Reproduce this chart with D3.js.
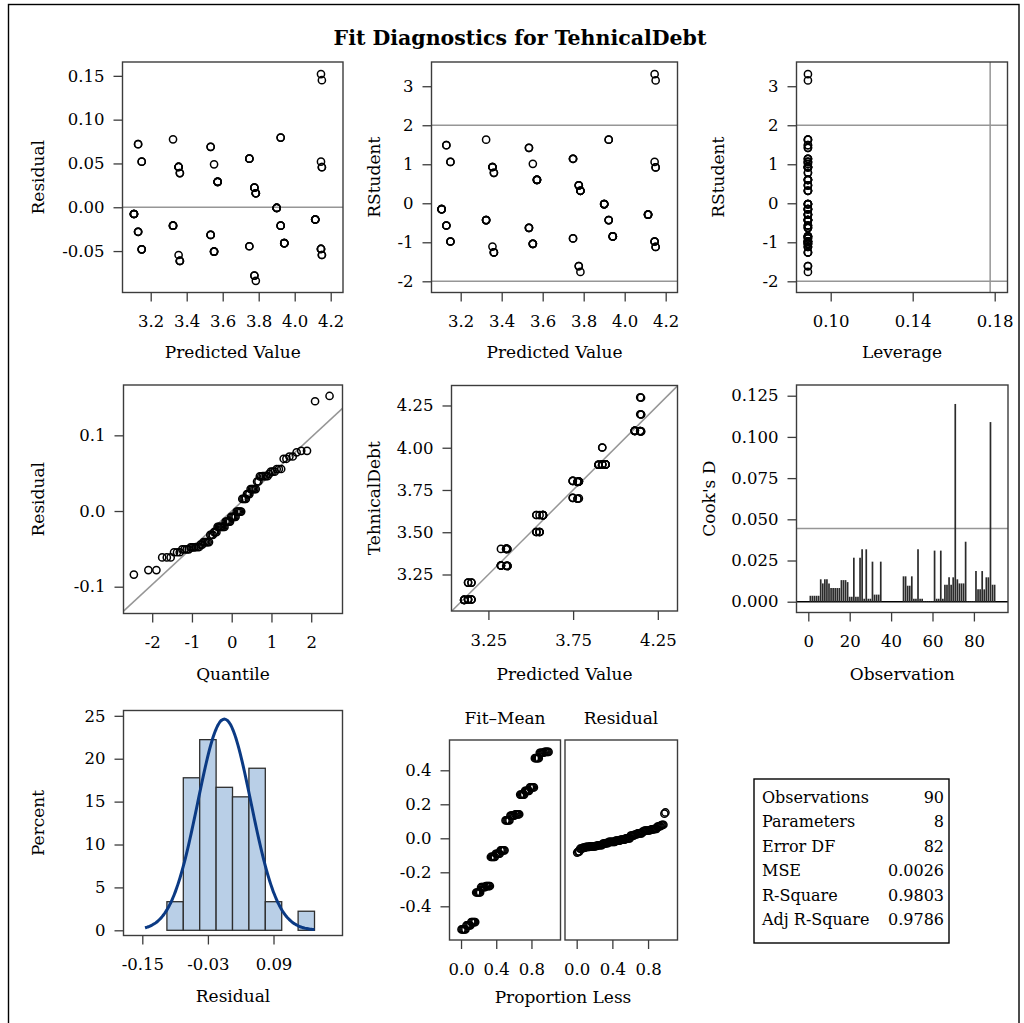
<!DOCTYPE html>
<html>
<head>
<meta charset="utf-8">
<script src="https://cdn.jsdelivr.net/npm/d3@7"></script>
<style>
  body { margin: 0; background: #fff; }
  svg text { font-family: "DejaVu Serif", serif; fill: #000; }
</style>
</head>
<body>
<svg id="chart" width="1024" height="1023"></svg>
<script>
// ---- Fitted model: one entry per distinct (predicted, residual) pair ----
const predicted = [4.146, 4.151, 3.922, 3.324, 3.130, 3.533, 3.748, 3.150, 4.146, 3.552, 3.355,
                   4.151, 3.362, 3.572, 3.776, 3.784, 3.900, 3.107, 4.114, 3.324, 3.922, 3.130,
                   3.533, 3.942, 3.748, 3.150, 4.146, 3.552, 3.355, 4.151, 3.362, 3.776, 3.784];
const residual  = [0.152, 0.145, 0.0795, 0.0775, 0.072, 0.069, 0.0555, 0.052, 0.052, 0.049, 0.046,
                   0.0457, 0.039, 0.029, 0.0224, 0.016, -0.0008, -0.0077, -0.014, -0.021, -0.021, -0.028,
                   -0.0316, -0.041, -0.0445, -0.048, -0.0476, -0.0506, -0.0545, -0.0545, -0.0613, -0.078, -0.084];
const rstudent  = [3.31, 3.15, 1.63, 1.63, 1.49, 1.42, 1.14, 1.06, 1.06, 1.01, 0.93,
                   0.92, 0.78, 0.60, 0.46, 0.32, -0.02, -0.15, -0.29, -0.43, -0.43, -0.57,
                   -0.63, -0.85, -0.90, -0.98, -0.98, -1.04, -1.11, -1.12, -1.26, -1.61, -1.76];
const leverage  = [0.0889, 0.0889, 0.0889, 0.0889, 0.0889, 0.0889, 0.0889, 0.0889, 0.0889, 0.0889, 0.0889,
                   0.0889, 0.0889, 0.0889, 0.0889, 0.0889, 0.0889, 0.0889, 0.0889, 0.0889, 0.0889, 0.0889,
                   0.0889, 0.0889, 0.0889, 0.0889, 0.0889, 0.0889, 0.0889, 0.0889, 0.0889, 0.0889, 0.0889];
const obsCount  = [1, 1, 2, 1, 2, 2, 3, 2, 1, 1, 4,
                   2, 2, 5, 3, 4, 5, 5, 5, 4, 3, 3,
                   3, 5, 2, 3, 3, 4, 1, 2, 3, 2, 1];

// Cook's D by observation number (1..90)
const cooksD = [0.0036, 0.0036, 0.0036, 0.0036, 0.0036, 0.0136, 0.0111, 0.0136, 0.0136, 0.0111,
                0.0083, 0.0083, 0.0083, 0.0083, 0.0083, 0.0131, 0.0131, 0.0131, 0.0119, 0.0030,
                0.0030, 0.0267, 0.0030, 0.0030, 0.0267, 0.0318, 0.0018, 0.0318, 0.0018, 0.0018,
                0.0243, 0.0043, 0.0043, 0.0043, 0.0243, 0.0000, 0.0000, 0.0000, 0.0000, 0.0000,
                0.0000, 0.0000, 0.0000, 0.0000, 0.0000, 0.0154, 0.0154, 0.0097, 0.0097, 0.0154,
                0.0018, 0.0018, 0.0318, 0.0018, 0.0018, 0.0004, 0.0004, 0.0004, 0.0004, 0.0004,
                0.0310, 0.0018, 0.0018, 0.0310, 0.0018, 0.0103, 0.0103, 0.0148, 0.0103, 0.0148,
                0.1200, 0.0136, 0.0111, 0.0111, 0.0111, 0.0364, 0.0004, 0.0004, 0.0004, 0.0004,
                0.0186, 0.0075, 0.0075, 0.0186, 0.0075, 0.0148, 0.0148, 0.1090, 0.0103, 0.0103];

// Fit statistics
const statLabels = ["Observations", "Parameters", "Error DF", "MSE", "R-Square", "Adj R-Square"];
const statValues = ["90", "8", "82", "0.0026", "0.9803", "0.9786"];
const nObs = 90, nParm = 8;

// Histogram bin edges and tick values
const histEdges = [-0.105, -0.075, -0.045, -0.015, 0.015, 0.045, 0.075, 0.105, 0.135, 0.165];
const ticksPred = [3.2, 3.4, 3.6, 3.8, 4.0, 4.2];
const ticksResid = [-0.05, 0.00, 0.05, 0.10, 0.15];
const ticksRStud = [-2, -1, 0, 1, 2, 3];
const ticksLev = [0.10, 0.14, 0.18];
const ticksQuant = [-2, -1, 0, 1, 2];
const ticksQQResid = [-0.1, 0.0, 0.1];
const ticksObsVal = [3.25, 3.50, 3.75, 4.00, 4.25];
const ticksObsPred = [3.25, 3.75, 4.25];
const ticksObsNum = [0, 20, 40, 60, 80];
const ticksCook = [0, 0.025, 0.05, 0.075, 0.1, 0.125];
const ticksHistX = [-0.15, -0.03, 0.09];
const ticksPct = [0, 5, 10, 15, 20, 25];
const ticksSpreadY = [-0.4, -0.2, 0.0, 0.2, 0.4];
const ticksProp = [0.0, 0.4, 0.8];

// ---- expand to one record per observation ----
const obs = [];
predicted.forEach((p, i) => {
  for (let k = 0; k < obsCount[i]; k++) {
    obs.push({ pred: p, res: residual[i], rst: rstudent[i], lev: leverage[i], actual: p + residual[i] });
  }
});

const svg = d3.select("#chart");
const FRAME = "#3c3c3c", REF = "#969696";
const TICK_FS = 16.5, TITLE_FS = 17;

// outer border
svg.append("rect").attr("x", 8.5).attr("y", 4.5).attr("width", 1010.5).attr("height", 1040)
  .attr("fill", "none").attr("stroke", "#000").attr("stroke-width", 1.4);

svg.append("text").attr("x", 520).attr("y", 45).attr("text-anchor", "middle")
  .attr("font-weight", "bold").attr("font-size", 20.5).text("Fit Diagnostics for TehnicalDebt");

let clipN = 0;
function styleAxis(sel) {
  sel.attr("font-family", null).attr("font-size", null);
  sel.select(".domain").remove();
  sel.selectAll(".tick line").attr("stroke", FRAME).attr("stroke-width", 1.3);
  sel.selectAll(".tick text").attr("font-size", TICK_FS).attr("fill", "#000");
}

function makePanel(o) {
  const [x0, y0, x1, y1] = o.box;
  const x = d3.scaleLinear().domain(o.xd).range([x0, x1]);
  const y = d3.scaleLinear().domain(o.yd).range([y1, y0]);
  const g = svg.append("g");
  const id = "clip" + (clipN++);
  svg.append("clipPath").attr("id", id).append("rect")
    .attr("x", x0).attr("y", y0).attr("width", x1 - x0).attr("height", y1 - y0);
  const ref = g.append("g").attr("clip-path", `url(#${id})`);
  const marks = g.append("g");
  g.append("rect").attr("x", x0).attr("y", y0).attr("width", x1 - x0).attr("height", y1 - y0)
    .attr("fill", "none").attr("stroke", FRAME).attr("stroke-width", 1.4);
  if (o.xt) {
    g.append("g").attr("transform", `translate(0,${y1})`)
      .call(d3.axisBottom(x).tickValues(o.xt).tickFormat(o.xf).tickSize(9).tickSizeOuter(0).tickPadding(14))
      .call(styleAxis);
  }
  if (o.yt) {
    g.append("g").attr("transform", `translate(${x0},0)`)
      .call(d3.axisLeft(y).tickValues(o.yt).tickFormat(o.yf).tickSize(9).tickSizeOuter(0).tickPadding(9))
      .call(styleAxis);
  }
  if (o.xTitle) {
    g.append("text").attr("x", o.xTitleX != null ? o.xTitleX : (x0 + x1) / 2).attr("y", o.xTitleY)
      .attr("text-anchor", "middle").attr("font-size", TITLE_FS).text(o.xTitle);
  }
  if (o.yTitle) {
    const cy = (y0 + y1) / 2;
    g.append("text").attr("transform", `translate(${o.yTitleX},${cy}) rotate(-90)`)
      .attr("text-anchor", "middle").attr("dy", "0.35em").attr("font-size", TITLE_FS).text(o.yTitle);
  }
  return { x, y, ref, marks, g };
}

function hline(p, v, color, w) {
  const [a, b] = p.x.domain();
  p.ref.append("line").attr("x1", p.x(a)).attr("x2", p.x(b)).attr("y1", p.y(v)).attr("y2", p.y(v))
    .attr("stroke", color || REF).attr("stroke-width", w || 1.5);
}
function vline(p, v) {
  const [a, b] = p.y.domain();
  p.ref.append("line").attr("y1", p.y(a)).attr("y2", p.y(b)).attr("x1", p.x(v)).attr("x2", p.x(v))
    .attr("stroke", REF).attr("stroke-width", 1.5);
}
function circles(p, data, fx, fy) {
  p.marks.selectAll("circle").data(data).join("circle")
    .attr("cx", d => p.x(fx(d))).attr("cy", d => p.y(fy(d))).attr("r", 3.6)
    .attr("fill", "none").attr("stroke", "#000").attr("stroke-width", 1.5);
}

// number formats with a plain hyphen for negatives
const hyph = f => v => f(v).replace("\u2212", "-");
const f2 = hyph(d3.format(".2f")), f1 = hyph(d3.format(".1f")), f0 = hyph(d3.format("d")), f3 = hyph(d3.format(".3f"));

// 1. Residual vs predicted
const p1 = makePanel({ box: [122.5, 62, 343, 292.5], xd: [3.0433, 4.2683], yd: [-0.0973, 0.1658],
  xt: ticksPred, xf: f1, yt: ticksResid, yf: f2, xTitle: "Predicted Value", xTitleY: 358,
  yTitle: "Residual", yTitleX: 38 });
hline(p1, 0);
circles(p1, obs, d => d.pred, d => d.res);

// 2. RStudent vs predicted
const p2 = makePanel({ box: [431.5, 62, 677.5, 292.5], xd: [3.0576, 4.2576], yd: [-2.287, 3.621],
  xt: ticksPred, xf: f1, yt: ticksRStud, yf: f0, xTitle: "Predicted Value", xTitleY: 358,
  yTitle: "RStudent", yTitleX: 374 });
hline(p2, 2); hline(p2, -2);
circles(p2, obs, d => d.pred, d => d.rst);

// 3. RStudent vs leverage
const p3 = makePanel({ box: [796.5, 62, 1007.5, 292.5], xd: [0.08332, 0.18624], yd: [-2.287, 3.621],
  xt: ticksLev, xf: f2, yt: ticksRStud, yf: f0, xTitle: "Leverage", xTitleY: 358,
  yTitle: "RStudent", yTitleX: 718 });
hline(p3, 2); hline(p3, -2); vline(p3, 2 * nParm / nObs);
circles(p3, obs, d => d.lev, d => d.rst);

// 4. Normal quantile plot of residuals
function qnorm(p) {
  const a = [-3.969683028665376e+01, 2.209460984245205e+02, -2.759285104469687e+02, 1.383577518672690e+02, -3.066479806614716e+01, 2.506628277459239e+00];
  const b = [-5.447609879822406e+01, 1.615858368580409e+02, -1.556989798598866e+02, 6.680131188771972e+01, -1.328068155288572e+01];
  const c = [-7.784894002430293e-03, -3.223964580411365e-01, -2.400758277161838e+00, -2.549732539343734e+00, 4.374664141464968e+00, 2.938163982698783e+00];
  const d = [7.784695709041462e-03, 3.224671290700398e-01, 2.445134137142996e+00, 3.754408661907416e+00];
  const pl = 0.02425;
  if (p < pl) { const q = Math.sqrt(-2 * Math.log(p)); return (((((c[0]*q+c[1])*q+c[2])*q+c[3])*q+c[4])*q+c[5]) / ((((d[0]*q+d[1])*q+d[2])*q+d[3])*q+1); }
  if (p > 1 - pl) { const q = Math.sqrt(-2 * Math.log(1 - p)); return -(((((c[0]*q+c[1])*q+c[2])*q+c[3])*q+c[4])*q+c[5]) / ((((d[0]*q+d[1])*q+d[2])*q+d[3])*q+1); }
  const q = p - 0.5, r = q * q;
  return (((((a[0]*r+a[1])*r+a[2])*r+a[3])*r+a[4])*r+a[5])*q / (((((b[0]*r+b[1])*r+b[2])*r+b[3])*r+b[4])*r+1);
}
const resSorted = obs.map(d => d.res).sort(d3.ascending);
const n = resSorted.length;
const resMean = d3.mean(resSorted), resSd = d3.deviation(resSorted);
const qq = resSorted.map((r, i) => ({ q: qnorm((i + 1 - 0.375) / (n + 0.25)), r }));
const p4 = makePanel({ box: [123.5, 385, 342.5, 613.5], xd: [-2.722, 2.787], yd: [-0.1354, 0.1665],
  xt: ticksQuant, xf: f0, yt: ticksQQResid, yf: f1, xTitle: "Quantile", xTitleY: 680,
  yTitle: "Residual", yTitleX: 38 });
{
  const [qa, qb] = p4.x.domain();
  p4.ref.append("line").attr("x1", p4.x(qa)).attr("y1", p4.y(resMean + resSd * qa))
    .attr("x2", p4.x(qb)).attr("y2", p4.y(resMean + resSd * qb)).attr("stroke", REF).attr("stroke-width", 1.5);
}
circles(p4, qq, d => d.q, d => d.r);

// 5. Observed vs predicted
const p5 = makePanel({ box: [451.5, 385.5, 677.5, 611], xd: [3.0322, 4.3661], yd: [3.034, 4.3682],
  xt: ticksObsPred, xf: f2, yt: ticksObsVal, yf: f2, xTitle: "Predicted Value", xTitleY: 680,
  yTitle: "TehnicalDebt", yTitleX: 374 });
{
  const [a, b] = p5.x.domain();
  p5.ref.append("line").attr("x1", p5.x(a)).attr("y1", p5.y(a)).attr("x2", p5.x(b)).attr("y2", p5.y(b))
    .attr("stroke", REF).attr("stroke-width", 1.5);
}
circles(p5, obs, d => d.pred, d => d.actual);

// 6. Cook's D by observation
const p6 = makePanel({ box: [796.5, 385, 1008, 612.5], xd: [-5.70, 96.47], yd: [-0.00655, 0.1315],
  xt: ticksObsNum, xf: f0, yt: ticksCook, yf: f3, xTitle: "Observation", xTitleY: 680,
  yTitle: "Cook's D", yTitleX: 709 });
hline(p6, 4 / nObs);
const cookData = cooksD.map((v, i) => ({ i: i + 1, v })).filter(d => d.v > 0);
p6.marks.selectAll("line").data(cookData).join("line")
  .attr("x1", d => p6.x(d.i)).attr("x2", d => p6.x(d.i))
  .attr("y1", p6.y(0)).attr("y2", d => p6.y(d.v))
  .attr("stroke", "#2b2b2b").attr("stroke-width", 1.7);
hline(p6, 0, "#000", 1.6);

// 7. Residual histogram with normal density
const p7 = makePanel({ box: [123.5, 710.5, 342.5, 935.5], xd: [-0.1844, 0.2162], yd: [-0.606, 25.62],
  xt: ticksHistX, xf: f2, yt: ticksPct, yf: f0, xTitle: "Residual", xTitleY: 1001.5,
  yTitle: "Percent", yTitleX: 38 });
const bins = d3.bin().domain([histEdges[0], histEdges[histEdges.length - 1]])
  .thresholds(histEdges.slice(1, -1))(resSorted);
p7.marks.selectAll("rect").data(bins.filter(b => b.length > 0)).join("rect")
  .attr("x", b => p7.x(b.x0)).attr("width", b => p7.x(b.x1) - p7.x(b.x0))
  .attr("y", b => p7.y(100 * b.length / n)).attr("height", b => p7.y(0) - p7.y(100 * b.length / n))
  .attr("fill", "#b9cfe7").attr("stroke", "#2e2e2e").attr("stroke-width", 1.3);
{
  const bw = histEdges[1] - histEdges[0];
  const xs = d3.range(-0.145, 0.1651, 0.002);
  const dens = xs.map(v => ({ v, pct: 100 * bw * Math.exp(-0.5 * ((v - resMean) / resSd) ** 2) / (resSd * Math.sqrt(2 * Math.PI)) }));
  p7.marks.append("path").datum(dens)
    .attr("d", d3.line().x(d => p7.x(d.v)).y(d => p7.y(d.pct)).curve(d3.curveBasis))
    .attr("fill", "none").attr("stroke", "#0b3a84").attr("stroke-width", 3);
}

// 8. Residual-fit spread plot
const fitMean = d3.mean(obs, d => d.actual);
const fitSorted = obs.map(d => d.pred - fitMean).sort(d3.ascending);
const spreadYd = [-0.5982, 0.5782], propXd = [-0.131, 1.13];
const p8a = makePanel({ box: [449.5, 740, 560.5, 940], xd: propXd, yd: spreadYd,
  xt: ticksProp, xf: f1, yt: ticksSpreadY, yf: f1 });
const p8b = makePanel({ box: [565, 740, 677.5, 940], xd: propXd, yd: spreadYd,
  xt: ticksProp, xf: f1 });
circles(p8a, fitSorted.map((v, i) => ({ p: (i + 0.5) / n, v })), d => d.p, d => d.v);
circles(p8b, resSorted.map((v, i) => ({ p: (i + 0.5) / n, v })), d => d.p, d => d.v);
svg.append("text").attr("x", 505).attr("y", 724).attr("text-anchor", "middle").attr("font-size", TITLE_FS).text("Fit\u2013Mean");
svg.append("text").attr("x", 621).attr("y", 724).attr("text-anchor", "middle").attr("font-size", TITLE_FS).text("Residual");
svg.append("text").attr("x", 563).attr("y", 1003).attr("text-anchor", "middle").attr("font-size", TITLE_FS).text("Proportion Less");

// 9. Fit statistics table
{
  const tb = [754, 779, 949, 943];
  svg.append("rect").attr("x", tb[0]).attr("y", tb[1]).attr("width", tb[2] - tb[0]).attr("height", tb[3] - tb[1])
    .attr("fill", "none").attr("stroke", "#000").attr("stroke-width", 1.4);
  const rowY = d3.scalePoint().domain(statLabels).range([803, 925]);
  svg.selectAll(".statL").data(statLabels).join("text").attr("class", "statL")
    .attr("x", tb[0] + 8).attr("y", d => rowY(d)).attr("font-size", 16).text(d => d);
  svg.selectAll(".statV").data(statValues).join("text").attr("class", "statV")
    .attr("x", tb[2] - 5).attr("y", (d, i) => rowY(statLabels[i])).attr("text-anchor", "end")
    .attr("font-size", 16).text(d => d);
}
</script>
</body>
</html>
